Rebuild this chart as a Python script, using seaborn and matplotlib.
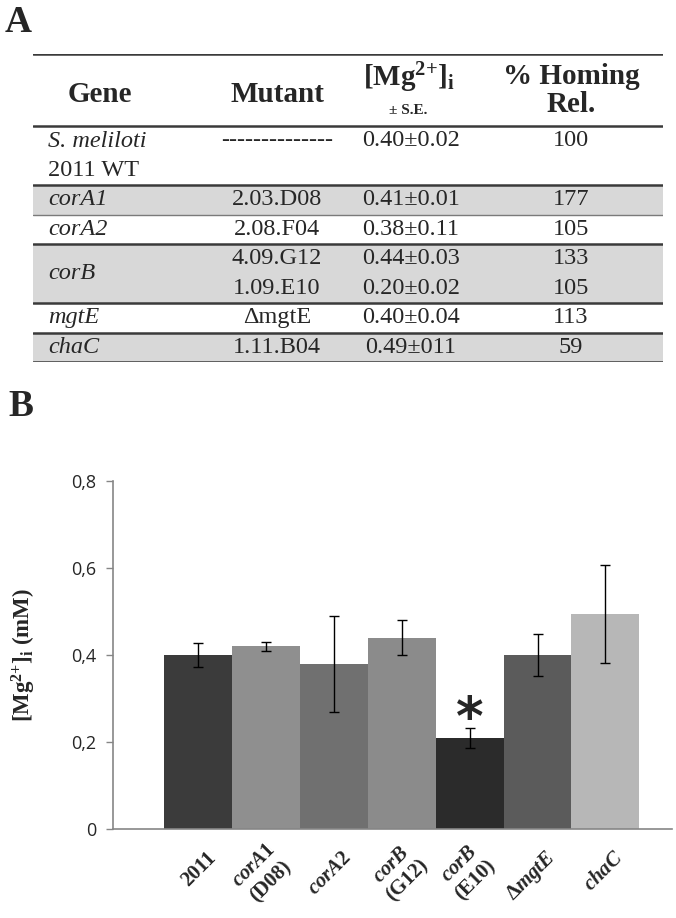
import matplotlib
matplotlib.use("Agg")
import matplotlib.pyplot as plt
import matplotlib.transforms as mtransforms
import seaborn as sns

# ---------------- data ----------------
# panel A table
gene_names = ["S. meliloti", "corA1", "corA2", "corB", "mgtE", "chaC"]
gene_extra = ["2011 WT", "", "", "", "", ""]
mutants = [["--------------"], ["2.03.D08"], ["2.08.F04"], ["4.09.G12", "1.09.E10"],
           ["\u0394mgtE"], ["1.11.B04"]]
mg_se = [["0.40\u00b10.02"], ["0.41\u00b10.01"], ["0.38\u00b10.11"],
         ["0.44\u00b10.03", "0.20\u00b10.02"], ["0.40\u00b10.04"], ["0.49\u00b1011"]]
homing = [["100"], ["177"], ["105"], ["133", "105"], ["113"], ["59"]]
row_lines = [2, 1, 1, 2, 1, 1]
shaded = [False, True, False, True, False, True]

# panel B bars
strains = ["2011", "corA1 (D08)", "corA2", "corB (G12)", "corB (E10)", "mgtE", "chaC"]
tick_labels = ["2011", r"$\mathit{corA1}$" + "\n(D08)", r"$\mathit{corA2}$",
               r"$\mathit{corB}$" + "\n(G12)", r"$\mathit{corB}$" + "\n(E10)",
               "\u0394" + r"$\mathit{mgtE}$", r"$\mathit{chaC}$"]
mg_mean = [0.40, 0.42, 0.38, 0.44, 0.21, 0.40, 0.495]
mg_err = [0.027, 0.01, 0.11, 0.04, 0.023, 0.048, 0.113]
bar_colors = ["#3b3b3b", "#8f8f8f", "#707070", "#8b8b8b", "#2b2b2b", "#5b5b5b", "#b7b7b7"]
star_index = 4

# ---------------- style ----------------
sns.set_style("white")
plt.rcParams["font.family"] = ["Liberation Serif", "DejaVu Serif"]
plt.rcParams["mathtext.fontset"] = "custom"
plt.rcParams["mathtext.rm"] = "Liberation Serif:bold"
plt.rcParams["mathtext.it"] = "Liberation Serif:italic:bold"
plt.rcParams["mathtext.bf"] = "Liberation Serif:bold"

W, H = 676, 918
fig = plt.figure(figsize=(W / 100, H / 100), dpi=100)

# ---------------- panel A: table ----------------
top, bottom = 54, 362
left, right = 33, 663
header_h = 72
unit = (bottom - top - header_h) / sum(row_lines)

ax_t = fig.add_axes([left / W, 1 - bottom / H, (right - left) / W, (bottom - top) / H])
ax_t.set_xlim(left, right)
ax_t.set_ylim(bottom, top)
ax_t.axis("off")

col_gene, col_mut, col_mg, col_hom = 48, 277, 411, 571
dark = "#3a3a3a"
fs = 17.5
ax_t.axhline(top, color=dark, lw=1.8)

ax_t.text(100, 95, "Gene", ha="center", va="center", fontsize=21, fontweight="bold")
ax_t.text(col_mut, 95, "Mutant", ha="center", va="center", fontsize=21, fontweight="bold")
ax_t.text(409, 78, r"[Mg$^{2{+}}$]$_{\rm i}$", ha="center", va="center", fontsize=21,
          fontweight="bold")
ax_t.text(408, 111, "\u00b1 S.E.", ha="center", va="center", fontsize=11, fontweight="bold")
ax_t.text(col_hom, 77, "% Homing", ha="center", va="center", fontsize=21, fontweight="bold")
ax_t.text(col_hom, 104, "Rel.", ha="center", va="center", fontsize=21, fontweight="bold")

y0 = top + header_h
ax_t.axhline(y0, color=dark, lw=1.8)
for i, name in enumerate(gene_names):
    y1 = y0 + row_lines[i] * unit
    if shaded[i]:
        ax_t.axhspan(y0, y1, color="#d8d8d8", lw=0, zorder=0)
    if gene_extra[i]:
        ax_t.text(col_gene, y0 + unit / 2 + 1, name, ha="left", va="center", fontsize=fs,
                  fontstyle="italic")
        ax_t.text(col_gene, y0 + 1.5 * unit, gene_extra[i], ha="left", va="center", fontsize=fs)
    else:
        ax_t.text(col_gene, (y0 + y1) / 2, name, ha="left", va="center", fontsize=fs,
                  fontstyle="italic")
    for j in range(len(mutants[i])):
        yc = y0 + (j + 0.5) * unit
        ax_t.text(col_mut, yc, mutants[i][j], ha="center", va="center", fontsize=fs)
        ax_t.text(col_mg, yc, mg_se[i][j], ha="center", va="center", fontsize=fs)
        ax_t.text(col_hom, yc, homing[i][j], ha="center", va="center", fontsize=fs)
    if i == 1:
        ax_t.axhline(y1, color="#7a7a7a", lw=1.0)
    else:
        ax_t.axhline(y1, color=dark, lw=1.8)
    y0 = y1

fig.text(5 / W, 1 - 22 / H, "A", ha="left", va="center", fontsize=27, fontweight="bold")
fig.text(8 / W, 1 - 406 / H, "B", ha="left", va="center", fontsize=27, fontweight="bold")

# ---------------- panel B: bars ----------------
ax = fig.add_axes([113 / W, 1 - 829 / H, (672 - 113) / W, (829 - 481) / H])
sns.barplot(x=strains, y=mg_mean, hue=strains, palette=bar_colors, legend=False,
            width=1.0, errorbar=None, linewidth=0, saturation=1, ax=ax)
ax.errorbar(range(len(strains)), mg_mean, yerr=mg_err, fmt="none", ecolor="black",
            elinewidth=1.0, capsize=3.6, capthick=1.0, zorder=5)
ax.text(star_index, mg_mean[star_index] + 0.005, "*", ha="center", va="baseline",
        fontsize=38, fontweight="bold", family="DejaVu Sans")

ax.set_ylim(0, 0.8)
ax.set_xlim(-1.25, 6.98)
ax.set_yticks([0, 0.2, 0.4, 0.6, 0.8])
ax.set_yticklabels(["0", "0,2", "0,4", "0,6", "0,8"], family="Open Sans", fontsize=13)
ax.tick_params(axis="y", left=True, length=5, width=1.0, color="#868686", pad=7)
ax.tick_params(axis="x", bottom=False, pad=0)
ax.set_xticks(range(len(strains)))
ax.set_xticklabels(tick_labels, rotation=45, ha="right", va="center",
                   rotation_mode="anchor", fontsize=15, fontweight="bold",
                   multialignment="center")
offset = mtransforms.ScaledTranslation(11 / 72, -15 / 72, fig.dpi_scale_trans)
for lab in ax.get_xticklabels():
    lab.set_transform(lab.get_transform() + offset)

for side in ["top", "right"]:
    ax.spines[side].set_visible(False)
for side in ["left", "bottom"]:
    ax.spines[side].set_color("#868686")
    ax.spines[side].set_linewidth(1.2)

ax.set_xlabel("")
ax.set_ylabel(r"[Mg$^{2{+}}$]$_{\rm i}$ (mM)", fontsize=16.5, fontweight="bold")
ax.yaxis.set_label_coords(-0.135, 0.5)

fig.savefig("out.png", dpi=100)
